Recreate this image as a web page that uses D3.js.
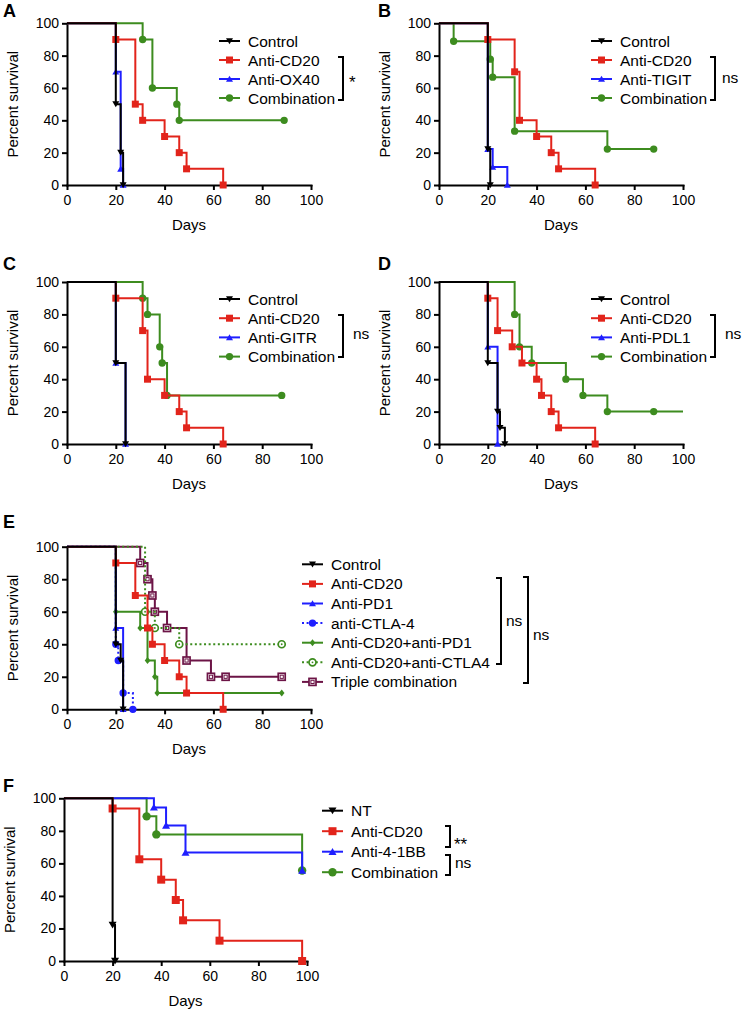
<!DOCTYPE html>
<html><head><meta charset="utf-8">
<script src="https://cdn.jsdelivr.net/npm/d3@7"></script>
<style>body{margin:0;background:#fff}svg{display:block}text{font-family:"Liberation Sans",Arial,Helvetica,sans-serif}</style>
</head><body><svg id="c" width="744" height="1016"></svg>
<script>
const xTicks=[0,20,40,60,80,100];
const yTicks=[0,20,40,60,80,100];
const xTitle="Days", yTitle="Percent survival";

// Panel A
const aLabels=["Control","Anti-CD20","Anti-OX40","Combination"];
const aControl=[[20,50],[22,20],[23,0]];
const aCD20=[[20,90],[28,50],[31,40],[40,30],[46,20],[49,10],[64,0]];
const aOX40=[[20,70],[22,10],[23,0]];
const aComb=[[31,90],[35,60],[45,50],[46,40],[89,40]];
const aSig=["*"];
// Panel B
const bLabels=["Control","Anti-CD20","Anti-TIGIT","Combination"];
const bControl=[[20,22.2],[21,0]];
const bCD20=[[20,90],[31,70],[33,40],[40,30],[46,20],[49,10],[64,0]];
const bTIGIT=[[20,22.2],[22,11.1],[28,0]];
const bComb=[[6,88.9],[21,77.8],[22,66.7],[31,33.3],[69,22.2],[88,22.2]];
const bSig=["ns"];
// Panel C
const cLabels=["Control","Anti-CD20","Anti-GITR","Combination"];
const cControl=[[20,50],[24,0]];
const cCD20=[[20,90],[31,70],[33,40],[40,30],[46,20],[49,10],[64,0]];
const cGITR=[[20,50],[24,0]];
const cComb=[[31,90],[33,80],[38,60],[39,50],[41,30],[88,30]];
const cSig=["ns"];
// Panel D
const dLabels=["Control","Anti-CD20","Anti-PDL1","Combination"];
const dControl=[[20,50],[24,20],[25,10],[27,0]];
const dCD20=[[20,90],[24,70],[30,60],[34,50],[40,40],[42,30],[46,20],[49,10],[64,0]];
const dPDL1=[[20,60],[24,0]];
const dComb=[[31,80],[33,60],[38,50],[52,40],[59,30],[69,20],[88,20]];
const dCombEnd=100;
const dSig=["ns"];
// Panel E
const eLabels=["Control","Anti-CD20","Anti-PD1","anti-CTLA-4","Anti-CD20+anti-PD1","Anti-CD20+anti-CTLA4","Triple combination"];
const eControl=[[20,40],[22,30],[23,0]];
const eCD20=[[20,90],[28,70],[33,50],[35,40],[40,30],[46,20],[49,10],[64,0]];
const ePD1=[[20,50],[23,0]];
const eCTLA4=[[20,40],[21,30],[23,10],[27,0]];
const eCD20PD1=[[20,60],[30,50],[33,30],[36,20],[37,10],[88,10]];
const eCD20CTLA4=[[32,60],[36,50],[46,40],[88,40]];
const eTriple=[[30,90],[33,80],[35,70],[36,60],[41,50],[49,30],[59,20],[65,20],[88,20]];
const eSig=["ns","ns"];
// Panel F
const fLabels=["NT","Anti-CD20","Anti-4-1BB","Combination"];
const fNT=[[20,22.2],[21,0]];
const fCD20=[[20,93.75],[31,62.5],[40,50],[46,37.5],[49,25],[64,12.5],[98,0]];
const f41BB=[[37,94.4],[42,83.3],[50,66.7],[98,55.6]];
const fComb=[[34,88.9],[38,77.8],[98,55.6]];
const fSig=["**","ns"];

const RED="#e2241b", BLUE="#1f1fff", GREEN="#3d8c1f", MAROON="#6c1446", BLACK="#000";
const svg=d3.select("#c");

function markerPath(type,s){
  const h=s/2;
  switch(type){
    case "down": return `M${-h},${-h*0.8}L${h},${-h*0.8}L0,${h*0.9}Z`;
    case "up": return `M${-h},${h*0.8}L${h},${h*0.8}L0,${-h*0.9}Z`;
    case "square": return `M${-h},${-h}H${h}V${h}H${-h}Z`;
    case "diamond": return `M0,${-h}L${h*0.8},0L0,${h}L${-h*0.8},0Z`;
    default: return d3.symbol(d3.symbolCircle, Math.PI*h*h*1.1)();
  }
}
function drawMarker(g,x,y,st,s){
  const mg=g.append("g").attr("transform",`translate(${x},${y})`);
  if(st.marker==="opencircle"){
    mg.append("circle").attr("r",s/2).attr("fill","#fff").attr("stroke",st.color).attr("stroke-width",1.7);
    mg.append("circle").attr("r",0.9).attr("fill",st.color);
  } else if(st.marker==="opensquare"){
    const h=s/2;
    mg.append("rect").attr("x",-h).attr("y",-h).attr("width",s).attr("height",s).attr("fill","#fff").attr("stroke",st.color).attr("stroke-width",1.7);
    mg.append("rect").attr("x",-1.6).attr("y",-1.6).attr("width",3.2).attr("height",3.2).attr("fill","none").attr("stroke",st.color).attr("stroke-width",1);
  } else {
    mg.append("path").attr("d",markerPath(st.marker,s)).attr("fill",st.color);
  }
}

function panel(cfg){
  const g=svg.append("g");
  const x=d3.scaleLinear().domain([0,100]).range(cfg.xr);
  const y=d3.scaleLinear().domain([0,100]).range(cfg.yr);
  const xa=g.append("g").attr("transform",`translate(0,${cfg.yr[0]})`)
    .call(d3.axisBottom(x).tickValues(xTicks).tickSize(5).tickSizeOuter(0).tickPadding(5));
  const ya=g.append("g").attr("transform",`translate(${cfg.xr[0]},0)`)
    .call(d3.axisLeft(y).tickValues(yTicks).tickSize(5).tickSizeOuter(0).tickPadding(3));
  [xa,ya].forEach(a=>{
    a.select(".domain").attr("stroke","#000").attr("stroke-width",2).attr("stroke-linecap","square");
    a.selectAll(".tick line").attr("stroke","#000").attr("stroke-width",2);
    a.selectAll(".tick text").attr("fill","#000").style("font-size","14px");
  });
  g.append("text").attr("x",(cfg.xr[0]+cfg.xr[1])/2).attr("y",cfg.yr[0]+45)
    .attr("text-anchor","middle").style("font-size","15px").text(xTitle);
  g.append("text").attr("transform",`translate(${cfg.ylx},${(cfg.yr[0]+cfg.yr[1])/2}) rotate(-90)`)
    .attr("text-anchor","middle").attr("dy","0.35em").style("font-size","15px").text(yTitle);
  g.append("text").attr("x",cfg.letter[0]).attr("y",cfg.letter[1])
    .style("font-size","18px").style("font-weight","bold").text(cfg.name);
  const line=d3.line().x(d=>x(d[0])).y(d=>y(d[1])).curve(d3.curveStepAfter);
  cfg.series.slice().reverse().forEach(s=>{
    const pts=[[0,100],...s.data];
    if(s.end!==undefined) pts.push([s.end,s.data[s.data.length-1][1]]);
    g.append("path").attr("d",line(pts)).attr("fill","none").attr("stroke",s.color)
      .attr("stroke-width",2).attr("stroke-dasharray",s.dotted?"2,2.6":null);
    s.data.forEach(d=>drawMarker(g,x(d[0]),y(d[1]),s,cfg.ms));
  });
  cfg.series.forEach((s,i)=>{
    const ly=cfg.leg.y+i*cfg.leg.dy;
    g.append("line").attr("x1",cfg.leg.x).attr("x2",cfg.leg.x+21).attr("y1",ly).attr("y2",ly)
      .attr("stroke",s.color).attr("stroke-width",2).attr("stroke-dasharray",s.dotted?"2,2.6":null);
    drawMarker(g,cfg.leg.x+10.5,ly,s,cfg.ms);
    g.append("text").attr("x",cfg.leg.x+29).attr("y",ly).attr("dy","0.36em")
      .style("font-size","15.5px").text(cfg.labels[i]);
  });
  cfg.brackets.forEach((b,i)=>{
    g.append("path").attr("d",`M${b.x-5},${b.y0}H${b.x}V${b.y1}H${b.x-5}`)
      .attr("fill","none").attr("stroke","#000").attr("stroke-width",2);
    g.append("text").attr("x",b.x+b.tx).attr("y",b.ty)
      .style("font-size",cfg.sig[i].includes("*")?"17px":"15.5px").text(cfg.sig[i]);
  });
}

const S=(data,color,marker,extra)=>Object.assign({data,color,marker},extra||{});

panel({name:"A",letter:[3,17],xr:[67,311],yr:[185,23.3],ylx:13,ms:7,labels:aLabels,sig:aSig,
  series:[S(aControl,BLACK,"down"),S(aCD20,RED,"square"),S(aOX40,BLUE,"up"),S(aComb,GREEN,"circle")],
  leg:{x:219,y:41,dy:19},brackets:[{x:343,y0:57,y1:100,tx:6,ty:88}]});
panel({name:"B",letter:[378,17],xr:[439,683],yr:[185,23.3],ylx:385,ms:7,labels:bLabels,sig:bSig,
  series:[S(bControl,BLACK,"down"),S(bCD20,RED,"square"),S(bTIGIT,BLUE,"up"),S(bComb,GREEN,"circle")],
  leg:{x:591,y:41,dy:19},brackets:[{x:715,y0:57,y1:100,tx:7,ty:83}]});
panel({name:"C",letter:[3,270],xr:[67,311],yr:[444,282],ylx:13,ms:7,labels:cLabels,sig:cSig,
  series:[S(cControl,BLACK,"down"),S(cCD20,RED,"square"),S(cGITR,BLUE,"up"),S(cComb,GREEN,"circle")],
  leg:{x:219,y:299,dy:19.2},brackets:[{x:343,y0:315,y1:357,tx:10,ty:339}]});
panel({name:"D",letter:[378,270],xr:[439,683],yr:[444,282],ylx:385,ms:7,labels:dLabels,sig:dSig,
  series:[S(dControl,BLACK,"down"),S(dCD20,RED,"square"),S(dPDL1,BLUE,"up"),S(dComb,GREEN,"circle",{end:dCombEnd})],
  leg:{x:591,y:299,dy:19.2},brackets:[{x:715,y0:315,y1:357,tx:10,ty:339}]});
panel({name:"E",letter:[3,528],xr:[67,311],yr:[709.3,546.7],ylx:13,ms:7,labels:eLabels,sig:eSig,
  series:[S(eControl,BLACK,"down"),S(eCD20,RED,"square"),S(ePD1,BLUE,"up"),S(eCTLA4,BLUE,"circle",{dotted:true}),
    S(eCD20PD1,GREEN,"diamond"),S(eCD20CTLA4,GREEN,"opencircle",{dotted:true}),S(eTriple,MAROON,"opensquare")],
  leg:{x:302,y:564.3,dy:19.6},brackets:[{x:501,y0:578,y1:664,tx:5,ty:626},{x:528,y0:577,y1:683,tx:5,ty:640}]});
panel({name:"F",letter:[3,792],xr:[64,307],yr:[961,798.3],ylx:10,ms:8,labels:fLabels,sig:fSig,
  series:[S(fNT,BLACK,"down"),S(fCD20,RED,"square"),S(f41BB,BLUE,"up"),S(fComb,GREEN,"circle")],
  leg:{x:322,y:810.7,dy:20.5},brackets:[{x:450,y0:826,y1:847,tx:4,ty:850},{x:450,y0:855,y1:875,tx:5,ty:868}]});
</script></body></html>
